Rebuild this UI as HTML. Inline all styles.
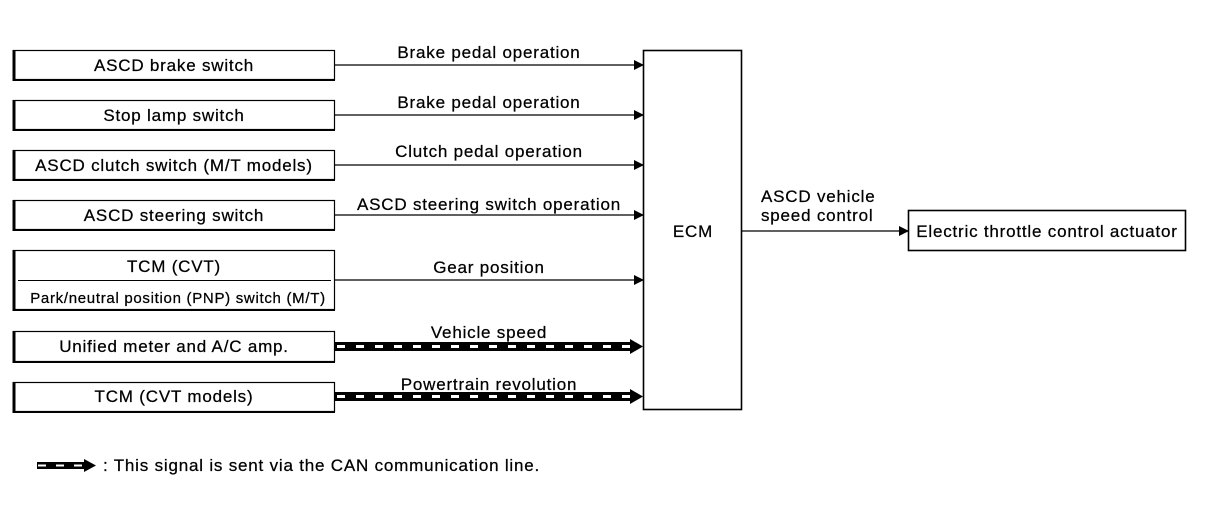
<!DOCTYPE html>
<html><head><meta charset="utf-8"><style>
html,body{margin:0;padding:0;background:#fff;}
svg{display:block;}
text{font-family:"Liberation Sans",Arial,sans-serif;font-size:17px;letter-spacing:0.8px;fill:#000;stroke:#000;stroke-width:0.25;}
</style></head><body>
<svg width="1216" height="512" viewBox="0 0 1216 512" xmlns="http://www.w3.org/2000/svg">
<defs>
<marker id="ah" markerWidth="10" markerHeight="10" refX="9" refY="5" orient="auto" markerUnits="userSpaceOnUse">
<path d="M0,0 L10,5 L0,10 z" fill="#000"/></marker>
</defs>
<g fill="#fff" stroke="#000" stroke-width="1.2">
<rect x="13.5" y="50.5" width="321" height="29"/>
<rect x="13.5" y="100.5" width="321" height="29"/>
<rect x="13.5" y="150.5" width="321" height="29"/>
<rect x="13.5" y="200.5" width="321" height="29"/>
<rect x="13.5" y="250.5" width="321" height="59"/>
<rect x="13.5" y="331.5" width="321" height="30"/>
<rect x="13.5" y="382.5" width="321" height="29"/>
<rect x="643.5" y="50.5" width="98" height="359" stroke-width="1.6"/>
<rect x="908.5" y="210.5" width="277" height="40" stroke-width="1.6"/>
</g>
<g stroke="#000" stroke-width="3">
<line x1="14" y1="50" x2="14" y2="81"/><line x1="13" y1="80" x2="335" y2="80" stroke-width="2"/>
<line x1="14" y1="100" x2="14" y2="131"/><line x1="13" y1="130" x2="335" y2="130" stroke-width="2"/>
<line x1="14" y1="150" x2="14" y2="181"/><line x1="13" y1="180" x2="335" y2="180" stroke-width="2"/>
<line x1="14" y1="200" x2="14" y2="231"/><line x1="13" y1="230" x2="335" y2="230" stroke-width="2"/>
<line x1="14" y1="250" x2="14" y2="311"/><line x1="13" y1="310" x2="335" y2="310" stroke-width="2"/>
<line x1="14" y1="331" x2="14" y2="363"/><line x1="13" y1="362" x2="335" y2="362" stroke-width="2"/>
<line x1="14" y1="382" x2="14" y2="413"/><line x1="13" y1="412" x2="335" y2="412" stroke-width="2"/>
</g>
<line x1="18" y1="280.5" x2="331" y2="280.5" stroke="#000" stroke-width="1"/>
<g stroke="#000" stroke-width="1.2" marker-end="url(#ah)">
<line x1="335" y1="65" x2="643" y2="65"/>
<line x1="335" y1="115" x2="643" y2="115"/>
<line x1="335" y1="165" x2="643" y2="165"/>
<line x1="335" y1="215" x2="643" y2="215"/>
<line x1="335" y1="280" x2="643" y2="280"/>
<line x1="742" y1="231" x2="908" y2="231"/>
</g>
<g>
<rect x="335" y="342" width="298" height="9" fill="#000"/>
<line x1="337" y1="346.5" x2="631" y2="346.5" stroke="#fff" stroke-width="3" stroke-dasharray="8,11"/>
<path d="M630,339 L643,346.5 L630,354 z" fill="#000"/>
<rect x="335" y="392" width="298" height="9" fill="#000"/>
<line x1="337" y1="396.5" x2="631" y2="396.5" stroke="#fff" stroke-width="3" stroke-dasharray="8,11"/>
<path d="M630,389 L643,396.5 L630,404 z" fill="#000"/>
<rect x="37" y="462" width="48" height="7" fill="#000"/>
<line x1="38" y1="465.5" x2="84" y2="465.5" stroke="#fff" stroke-width="2" stroke-dasharray="8,10"/>
<path d="M84,459 L96,465.5 L84,472 z" fill="#000"/>
</g>
<g text-anchor="middle">
<text x="174" y="71">ASCD brake switch</text>
<text x="174" y="121">Stop lamp switch</text>
<text x="174" y="171">ASCD clutch switch (M/T models)</text>
<text x="174" y="221">ASCD steering switch</text>
<text x="174" y="272">TCM (CVT)</text>
<text x="178" y="303" style="font-size:15px;letter-spacing:0.7px">Park/neutral position (PNP) switch (M/T)</text>
<text x="174" y="352">Unified meter and A/C amp.</text>
<text x="174" y="402">TCM (CVT models)</text>
<text x="489" y="58">Brake pedal operation</text>
<text x="489" y="108">Brake pedal operation</text>
<text x="489" y="157">Clutch pedal operation</text>
<text x="489" y="210">ASCD steering switch operation</text>
<text x="489" y="273">Gear position</text>
<text x="489" y="338">Vehicle speed</text>
<text x="489" y="390">Powertrain revolution</text>
<text x="693" y="237">ECM</text>
<text x="1047" y="237">Electric throttle control actuator</text>
</g>
<text x="761" y="202">ASCD vehicle</text>
<text x="761" y="221">speed control</text>
<text x="103" y="471">: This signal is sent via the CAN communication line.</text>
</svg>
</body></html>
